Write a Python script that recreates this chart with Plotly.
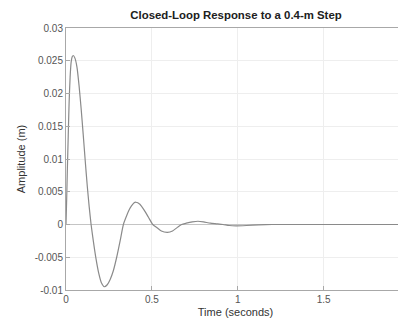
import plotly.graph_objects as go

# Estimated response
time_s = [0, 0.004, 0.008, 0.013, 0.018, 0.024, 0.030, 0.036, 0.042, 0.052, 0.064, 0.076, 0.088,
          0.100, 0.112, 0.124, 0.135, 0.146, 0.160, 0.175, 0.190, 0.206, 0.223, 0.240, 0.257,
          0.275, 0.295, 0.315, 0.334, 0.350, 0.365, 0.380, 0.395, 0.407, 0.430, 0.455, 0.480,
          0.505, 0.530, 0.555, 0.590, 0.620, 0.650, 0.673, 0.700, 0.735, 0.768, 0.800, 0.840,
          0.880, 0.914, 0.950, 0.990, 1.050, 1.120, 1.200, 1.400, 1.600, 1.800, 2.000]
amplitude_m = [0, 0.004, 0.0085, 0.0135, 0.0185, 0.0225, 0.0248, 0.0256, 0.0258, 0.0254, 0.0240,
               0.0212, 0.0177, 0.0138, 0.0097, 0.0058, 0.0027, 0.0, -0.0027, -0.0053, -0.0074,
               -0.0089, -0.0095, -0.0092, -0.0084, -0.0071, -0.0050, -0.0025, 0.0, 0.00115, 0.0021,
               0.0028, 0.0033, 0.0034, 0.0031, 0.0022, 0.0011, 0.0, -0.0005, -0.0010, -0.0012,
               -0.0010, -0.0004, 0.0, 0.0002, 0.0004, 0.0005, 0.0004, 0.0002, 0.0001, 0.0,
               -0.00015, -0.0002, -0.00015, -0.00005, 0.0, 0.0, 0.0, 0.0, 0.0]

x_tick_vals = [0, 0.5, 1, 1.5]
x_tick_text = ["0", "0.5", "1", "1.5"]
y_tick_vals = [-0.01, -0.005, 0, 0.005, 0.01, 0.015, 0.02, 0.025, 0.03]
y_tick_text = ["-0.01", "-0.005", "0", "0.005", "0.01", "0.015", "0.02", "0.025", "0.03"]

fig = go.Figure()
fig.add_trace(go.Scatter(x=time_s, y=amplitude_m, mode="lines",
                         line=dict(color="#8a8a8a", width=1.2, shape="spline", smoothing=0.6),
                         showlegend=False, hoverinfo="skip"))

font_family = "Liberation Sans, Arial, sans-serif"
# page body has an 8px margin, so the figure is sized/offset to compensate
fig.update_layout(
    width=398, height=318,
    margin=dict(l=58, r=1, t=20, b=36),
    paper_bgcolor="white", plot_bgcolor="white",
    title=dict(text="<b>Closed-Loop Response to a 0.4-m Step</b>", x=228 / 398, xanchor="center",
               y=1, yanchor="top", pad=dict(t=3, b=0),
               font=dict(family=font_family, size=11.4, color="#202020")),
    font=dict(family=font_family, size=10, color="#555555"),
)
fig.update_xaxes(range=[0, 1.973], tickvals=x_tick_vals, ticktext=x_tick_text,
                 automargin=False,
                 showline=True, linecolor="#a8a8a8", linewidth=1, mirror=True,
                 ticks="inside", ticklen=4, tickcolor="#a8a8a8",
                 showgrid=True, gridcolor="#eeeeee", zeroline=False,
                 title=dict(text="Time (seconds)", standoff=4,
                            font=dict(family=font_family, size=11, color="#333333")),
                 tickfont=dict(size=10, color="#555555"))
fig.update_yaxes(range=[-0.01, 0.03], tickvals=y_tick_vals, ticktext=y_tick_text,
                 automargin=False,
                 showline=True, linecolor="#a8a8a8", linewidth=1, mirror=True,
                 ticks="inside", ticklen=4, tickcolor="#a8a8a8",
                 showgrid=True, gridcolor="#eeeeee",
                 zeroline=True, zerolinecolor="#c4c4c4", zerolinewidth=1,
                 title=dict(text="Amplitude (m)", standoff=6,
                            font=dict(family=font_family, size=11, color="#333333")),
                 tickfont=dict(size=10, color="#555555"))

fig.write_html("out.html")
